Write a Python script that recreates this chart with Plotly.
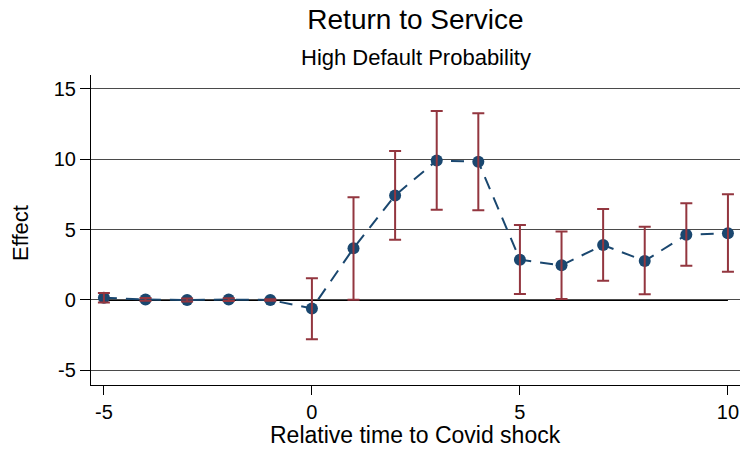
import plotly.graph_objects as go

# Event-study estimates and 95% confidence bounds
rel_time = [-5, -4, -3, -2, -1, 0, 1, 2, 3, 4, 5, 6, 7, 8, 9, 10]
effect = [0.16, 0.04, 0.0, 0.03, 0.0, -0.6, 3.67, 7.42, 9.9, 9.8, 2.86, 2.46, 3.9, 2.77, 4.63, 4.73]
ci_upper = [0.5, 0.14, 0.1, 0.13, 0.05, 1.55, 7.28, 10.57, 13.4, 13.25, 5.32, 4.85, 6.45, 5.2, 6.86, 7.5]
ci_lower = [-0.18, -0.06, -0.1, -0.07, -0.05, -2.78, 0.02, 4.28, 6.4, 6.36, 0.43, 0.07, 1.37, 0.4, 2.43, 2.0]

x_ticks = [-5, 0, 5, 10]
x_ticktext = ["-5", "0", "5", "10"]
y_ticks = [-5, 0, 5, 10, 15]
y_ticktext = ["-5", "0", "5", "10", "15"]

NAVY = "#1a476f"
CRANBERRY = "#93363f"
FONT = "Liberation Sans, Arial, sans-serif"

err_plus = [u - e for u, e in zip(ci_upper, effect)]
err_minus = [e - l for e, l in zip(effect, ci_lower)]

fig = go.Figure()

# Point estimates joined by a dashed line
fig.add_trace(go.Scatter(
    x=rel_time, y=effect, mode="lines+markers",
    line=dict(color=NAVY, width=2, dash="13px,9px"),
    marker=dict(size=12, color=NAVY),
    showlegend=False,
))

# Confidence intervals, drawn over the markers
fig.add_trace(go.Scatter(
    x=rel_time, y=effect, mode="markers",
    marker=dict(size=0.1, color="rgba(0,0,0,0)"),
    error_y=dict(type="data", symmetric=False, array=err_plus, arrayminus=err_minus,
                 color=CRANBERRY, thickness=2, width=6),
    hoverinfo="skip", showlegend=False,
))

# Zero reference line across the event window
fig.add_shape(type="line", xref="x", yref="y",
              x0=min(rel_time), x1=max(rel_time), y0=0, y1=0,
              line=dict(color="black", width=2), layer="below")

fig.update_layout(
    width=745, height=458,
    margin=dict(l=91, r=5, t=75, b=73),
    paper_bgcolor="white", plot_bgcolor="white",
    font=dict(family=FONT, color="black", size=20),
    title=dict(text="Return to Service", x=0.5, xref="paper", xanchor="center",
               y=1 - 19.5 / 458, yref="container", yanchor="middle",
               font=dict(size=28, family=FONT)),
)

# Subtitle
fig.add_annotation(text="High Default Probability", xref="paper", yref="paper",
                   x=0.5, y=(385 - 57.5) / 310, showarrow=False, yanchor="middle",
                   font=dict(size=22, family=FONT))
# Axis titles
fig.add_annotation(text="Relative time to Covid shock", xref="paper", yref="paper",
                   x=0.5, y=(385 - 435) / 310, showarrow=False, yanchor="middle",
                   font=dict(size=23, family=FONT))
fig.add_annotation(text="Effect", xref="paper", yref="paper", textangle=-90,
                   x=(20 - 91) / 649, y=(385 - 233) / 310, showarrow=False,
                   xanchor="center", yanchor="middle",
                   font=dict(size=22, family=FONT))

fig.update_xaxes(
    range=[-5.31, 10.29], tickvals=x_ticks, ticktext=x_ticktext,
    ticks="outside", ticklen=9, tickwidth=1.2, tickcolor="black",
    showline=True, linecolor="black", linewidth=1.2,
    showgrid=False, zeroline=False, tickfont=dict(size=20),
)
fig.update_yaxes(
    range=[-6.03, 15.96], tickvals=y_ticks, ticktext=y_ticktext,
    ticks="outside", ticklen=10, tickwidth=1.2, tickcolor="black",
    showline=True, linecolor="black", linewidth=1.2,
    showgrid=True, gridcolor="#4a4a4a", gridwidth=1, zeroline=False,
    tickfont=dict(size=20),
)

fig.write_html("out.html")
